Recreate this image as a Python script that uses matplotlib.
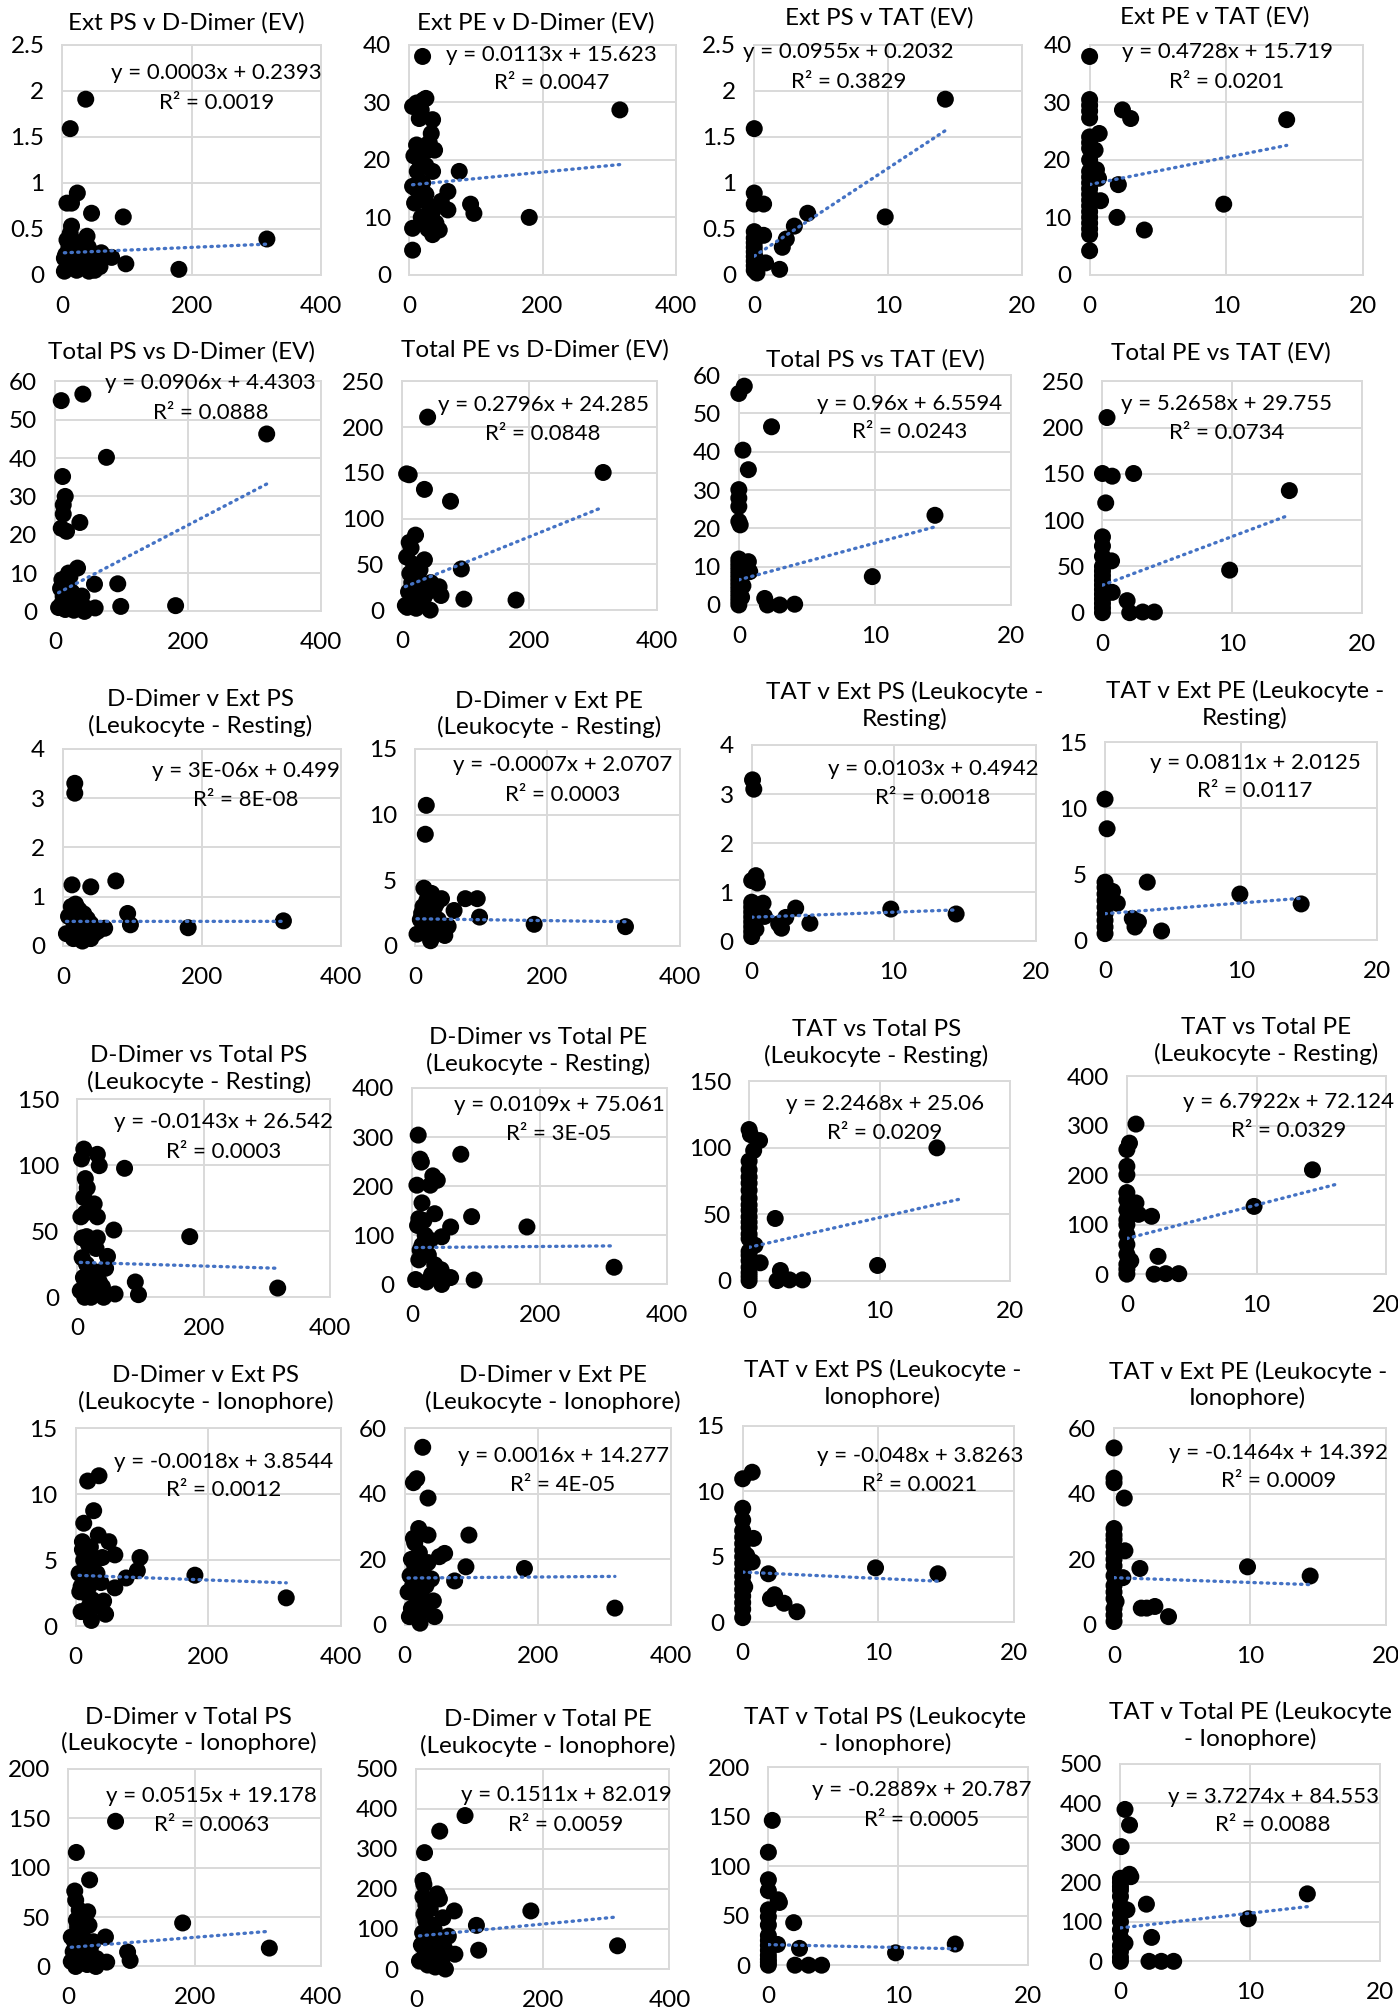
import matplotlib
matplotlib.use("Agg")
import matplotlib.pyplot as plt
from matplotlib.ticker import FuncFormatter

plt.rcParams["font.family"] = ["Lato", "DejaVu Sans"]

# layout units: the sheet is 1088 x 1568 units, panel boxes are given in these
W, H = 1088, 1568

# ---------------- data (x, y) per chart ----------------
# EV charts
ext_ps_dd = [(36, 1.91), (12, 1.59), (23, 0.89), (7, 0.78), (14, 0.78), (45, 0.67), (94, 0.63), (14, 0.53),
             (38, 0.42), (7, 0.38), (316, 0.39), (60, 0.24), (76, 0.19), (98, 0.12), (180, 0.06), (3, 0.18),
             (58, 0.09), (41, 0.04), (3, 0.04), (10, 0.30), (20, 0.25), (25, 0.35), (30, 0.15), (15, 0.10),
             (22, 0.05), (35, 0.20), (12, 0.45), (28, 0.30), (18, 0.20), (8, 0.12), (32, 0.08), (40, 0.30),
             (45, 0.15), (50, 0.05), (5, 0.22)]
ext_pe_dd = [(20, 38.0), (316, 28.7), (5, 29.3), (11, 29.9), (21, 30.4), (25, 30.7), (18, 28.7), (15, 27.2),
             (35, 27.0), (33, 24.6), (11, 22.6), (38, 21.7), (28, 21.7), (7, 20.7), (35, 18.0), (75, 18.0),
             (5, 15.4), (58, 14.5), (48, 12.8), (58, 11.3), (92, 12.3), (97, 10.7), (180, 10.0), (5, 4.3),
             (5, 8.1), (45, 7.8), (35, 7.0), (8, 12.5), (10, 15), (15, 13), (20, 16), (25, 14), (30, 12),
             (18, 10), (22, 9), (28, 8), (12, 18), (40, 9), (35, 11), (15, 20), (25, 19), (30, 23)]
ext_ps_tat = [(14.3, 1.91), (0, 1.59), (0, 0.89), (0, 0.77), (0.7, 0.77), (4.0, 0.67), (9.8, 0.63), (3.0, 0.53),
              (0.7, 0.43), (0, 0.47), (2.4, 0.39), (2.1, 0.30), (0.85, 0.13), (1.9, 0.06), (0, 0.05), (0, 0.1),
              (0, 0.15), (0, 0.2), (0, 0.25), (0, 0.3), (0, 0.35), (0, 0.4), (0.2, 0.02), (0.1, 0.18)]
ext_pe_tat = [(0, 38), (14.4, 27.0), (2.4, 28.7), (3.0, 27.2), (0.7, 24.6), (0.4, 21.7), (2.1, 15.7), (0.8, 12.9),
              (9.8, 12.3), (2.0, 10.0), (4.0, 7.8), (0, 4.2), (0, 30.5), (0, 29.5), (0, 28.5), (0, 27.3), (0, 24),
              (0, 23), (0, 22), (0, 20), (0, 18), (0, 17), (0, 16), (0, 15), (0, 14), (0, 13), (0, 12), (0, 11),
              (0, 10), (0, 9), (0, 8), (0, 7), (0.5, 18.3), (0.65, 16.8)]
tot_ps_dd = [(41.5, 56.7), (9, 55.0), (318, 46.3), (77, 40.2), (11, 35.2), (15, 30.0), (12, 27.8), (12, 25.4),
             (37, 23.2), (9, 21.7), (17, 20.9), (33.5, 11.3), (20, 10), (10, 8.3), (59, 7.1), (94, 7.2),
             (98.5, 1.3), (181, 1.5), (60, 0.9), (44, 0), (5, 1), (10, 2), (15, 0.5), (20, 3), (25, 5), (30, 1.5),
             (35, 2), (40, 4), (8, 6), (18, 7), (28, 0.3), (22, 9), (12, 4), (45, 1)]
tot_pe_dd = [(40, 211), (7, 149), (11, 148), (316, 150.5), (35, 132), (76, 119), (21, 82), (11, 74), (14, 68),
             (7, 58), (35, 55), (93, 45), (28, 44), (58, 25.5), (61, 16), (97, 12), (179, 11), (44, 0), (5, 5),
             (10, 20), (15, 30), (20, 10), (25, 35), (30, 25), (35, 15), (12, 40), (18, 50), (8, 3), (22, 2),
             (28, 8), (40, 20), (45, 30)]
tot_ps_tat = [(0.4, 57.1), (0, 55.2), (2.4, 46.5), (0.3, 40.4), (0.7, 35.3), (0, 30.1), (0, 27.9), (0, 25.7),
              (0, 21.8), (0.1, 20.9), (14.4, 23.4), (0.7, 11.3), (0.8, 8.7), (9.8, 7.4), (1.9, 1.7), (2.1, 0),
              (3.0, 0), (4.1, 0.2), (0, 0), (0, 1), (0, 2), (0, 3), (0, 4), (0, 5), (0, 6), (0, 7), (0, 8), (0, 9),
              (0, 10), (0, 11), (0, 12), (0.2, 2), (0.3, 5)]
tot_pe_tat = [(0.35, 211), (0, 150.5), (0.75, 147.6), (2.4, 150.5), (14.4, 132), (0.25, 118.7), (0, 82), (0, 72),
              (0, 61), (0.7, 56), (0.75, 22), (9.8, 46), (1.9, 13), (2.1, 0), (3.1, 0.7), (4.0, 0.7), (0, 0),
              (0, 5), (0, 10), (0, 15), (0, 20), (0, 25), (0, 30), (0, 35), (0, 40), (0, 45), (0, 50)]

# Leukocyte - resting
dd_ext_ps_rest = [(17, 3.30), (17, 3.10), (13, 1.24), (40, 1.20), (76, 1.32), (93, 0.66), (97, 0.43), (180, 0.37),
                  (317, 0.51), (60, 0.36), (8, 0.6), (12, 0.8), (18, 0.85), (22, 0.75), (25, 0.7), (30, 0.65),
                  (35, 0.55), (40, 0.45), (15, 0.5), (20, 0.4), (25, 0.35), (30, 0.3), (10, 0.25), (35, 0.2),
                  (40, 0.15), (45, 0.25), (15, 0.15), (28, 0.1), (5, 0.25), (50, 0.3)]
dd_ext_pe_rest = [(17, 10.7), (15.5, 8.5), (13.4, 4.4), (76, 3.6), (94, 3.6), (40, 3.6), (97.5, 2.2), (180, 1.65),
                  (318, 1.47), (59, 2.7), (23.5, 0.4), (3, 0.9), (8, 2), (12, 3), (18, 3.5), (22, 2.5), (25, 4),
                  (30, 3), (35, 2), (40, 1), (15, 1.5), (20, 1), (28, 1.8), (45, 0.8), (50, 1.5), (10, 2.5),
                  (33, 3.3)]
tat_ext_ps_rest = [(0.06, 3.29), (0.15, 3.10), (0.3, 1.34), (0, 1.24), (0.4, 1.19), (9.8, 0.66), (14.4, 0.56),
                   (3.1, 0.68), (2.4, 0.49), (4.1, 0.37), (2.1, 0.27), (1.9, 0.36), (0.8, 0.78), (0.9, 0.51),
                   (0, 0.1), (0, 0.2), (0, 0.3), (0, 0.4), (0, 0.5), (0, 0.6), (0, 0.7), (0, 0.8), (0.3, 0.25),
                   (0.2, 0.6)]
tat_ext_pe_rest = [(0, 10.7), (0.15, 8.45), (3.1, 4.4), (9.9, 3.5), (14.4, 2.75), (0.9, 2.8), (2.0, 1.65),
                   (2.45, 1.4), (2.2, 1.0), (4.15, 0.7), (0.55, 3.7), (0, 0.5), (0, 1), (0, 1.5), (0, 2), (0, 2.5),
                   (0, 3), (0, 3.5), (0, 4), (0, 4.4)]
dd_tot_ps_rest = [(10.6, 112.4), (7, 104.9), (32, 108.4), (35, 99.8), (75, 97.8), (13, 90), (16, 83), (10.6, 75.6),
                  (27, 70.8), (6, 61), (13, 64), (32, 61), (58, 51), (8, 45), (15, 46), (32, 45), (178, 46),
                  (30, 37), (48, 31), (92, 11.6), (97, 2), (317, 7), (60, 2.5), (42, 0), (5, 5), (10, 15), (15, 25),
                  (20, 10), (25, 20), (30, 3), (35, 12), (8, 30), (18, 40), (22, 0), (28, 18), (12, 0), (40, 8),
                  (45, 22)]
dd_tot_pe_rest = [(9, 304), (12, 255), (14, 249), (76, 265), (32, 221), (39, 212), (7, 202), (28, 202), (15, 166),
                  (10, 134), (35, 144), (93, 138), (180, 117), (60, 117), (46, 97), (317, 35), (60, 14), (97, 9),
                  (46, 0), (5, 10), (10, 50), (15, 80), (20, 100), (25, 60), (30, 20), (35, 40), (8, 120),
                  (18, 130), (22, 5), (28, 90), (12, 70), (40, 15), (45, 30)]
tat_tot_ps_rest = [(0, 113.8), (0.1, 110), (0.8, 105.5), (0.35, 98), (14.4, 100), (0, 90), (0, 83.5), (0, 73.4),
                   (0, 62), (0, 53), (0, 44), (2.0, 46.8), (0, 31.6), (0, 19), (0.45, 26.6), (0.85, 13.4),
                   (9.85, 11.4), (2.4, 7.6), (2.15, 0), (3.1, 0.5), (4.1, 0.5), (0, 0), (0, 3), (0, 6), (0, 10),
                   (0, 15), (0, 22), (0, 35), (0, 40), (0, 48), (0, 57), (0, 68), (0, 78)]
tat_tot_pe_rest = [(0.7, 303.5), (0.2, 265), (0, 252), (0, 218), (0, 201), (0, 165), (0.7, 144), (0.9, 121),
                   (1.9, 117), (9.8, 137), (14.3, 211), (2.4, 36), (0.3, 27), (2.1, 0), (3.0, 1), (4.0, 1), (0, 0),
                   (0, 10), (0, 20), (0, 40), (0, 60), (0, 80), (0, 100), (0, 110), (0, 130), (0, 150)]

# Leukocyte - ionophore
dd_ext_ps_iono = [(35, 11.4), (18, 11.0), (27, 8.75), (12, 7.8), (34, 6.9), (50, 6.4), (10, 6.4), (59, 5.4),
                  (97, 5.2), (40, 5.2), (93, 4.2), (76, 3.65), (180, 3.86), (59, 2.9), (318, 2.14), (42, 1.9),
                  (45, 0.9), (23.5, 0.43), (8, 1.1), (5, 4), (8, 3), (12, 5), (15, 2.5), (18, 4.5), (20, 3), (22, 6),
                  (25, 2), (28, 5), (30, 3.5), (32, 4), (35, 1.5), (10, 5.8), (15, 3.8), (25, 4.8), (38, 3.3),
                  (6, 2.6), (20, 1.5)]
dd_ext_pe_iono = [(27, 54.2), (18, 44.6), (13, 43.4), (35, 38.7), (21, 29.4), (35, 27.4), (13, 26.4), (96.5, 27.4),
                  (52, 20.8), (60, 21.8), (92, 17.7), (180, 17.2), (75, 13.4), (43, 7.3), (45, 2.5), (7, 2.5),
                  (23, 0.5), (316, 5.1), (5, 10), (8, 15), (10, 20), (12, 12), (15, 18), (18, 8), (20, 14),
                  (22, 22), (25, 10), (28, 16), (30, 5), (32, 12), (35, 19), (40, 14), (10, 5), (15, 25), (25, 4)]
tat_ext_ps_iono = [(0, 10.95), (0.7, 11.45), (0, 8.7), (0, 7.8), (0.8, 6.4), (0.3, 5.1), (0.7, 4.6), (1.9, 3.7),
                   (9.8, 4.15), (14.4, 3.7), (2.05, 1.8), (2.35, 2.1), (3.05, 1.45), (4.0, 0.8), (0, 0.35),
                   (0.15, 2.7), (0, 1), (0, 1.5), (0, 2), (0, 2.5), (0, 3), (0, 3.5), (0, 4), (0, 4.5), (0, 5),
                   (0, 5.5), (0, 6), (0, 6.5), (0, 7)]
tat_ext_pe_iono = [(0, 54), (0, 44.8), (0, 43.4), (0.75, 38.7), (0, 29.4), (0, 27.4), (0.8, 22.6), (1.9, 17.2),
                   (9.8, 17.7), (14.4, 14.9), (0.65, 14.4), (2.0, 5.1), (2.4, 5.1), (3.0, 5.6), (4.0, 2.5),
                   (0.15, 7.1), (0, 1), (0, 3), (0, 5), (0, 8), (0, 10), (0, 12), (0, 15), (0, 18), (0, 20), (0, 22),
                   (0, 24), (0, 26)]
dd_tot_ps_iono = [(75, 146.8), (13, 115.3), (34, 87.5), (10.5, 76.3), (12, 67), (17.5, 57), (31, 55.3), (13, 46.8),
                  (33, 41.7), (181, 44), (59, 29.8), (5, 29.8), (94, 14.6), (318, 18.6), (98, 6.1), (61, 4.4),
                  (44, 0), (5, 5), (8, 15), (10, 25), (12, 0), (15, 10), (18, 20), (20, 35), (22, 5), (25, 28),
                  (28, 12), (30, 2), (35, 18), (40, 25), (45, 8), (15, 40), (20, 50)]
dd_tot_pe_iono = [(77, 383), (37, 344), (13, 290.5), (10.5, 221), (12, 211), (10.5, 180), (33, 187.5),
                  (36.5, 175), (60, 145), (181, 145), (42, 128), (12, 137), (95, 109), (50.6, 82), (318, 58),
                  (61, 37), (98.5, 47), (46, 0), (5, 20), (8, 60), (10, 90), (12, 30), (15, 120), (18, 10),
                  (20, 70), (22, 150), (25, 45), (28, 100), (30, 5), (35, 80), (40, 20), (45, 50), (15, 160),
                  (25, 110)]
tat_tot_ps_iono = [(0.3, 146.4), (0, 114.2), (0, 86.4), (0, 75.3), (0.75, 66.1), (0.85, 63.4), (0, 56), (0, 49),
                   (0, 40.7), (1.95, 43), (0.7, 21), (2.4, 17), (9.8, 12.5), (14.4, 21.4), (2.05, 0), (3.1, 0),
                   (4.1, 0), (0, 0), (0, 3), (0, 6), (0, 10), (0, 15), (0, 20), (0, 25), (0, 30)]
tat_tot_pe_iono = [(0.35, 384), (0.7, 344.5), (0.05, 290), (0.7, 220), (0.8, 214), (0, 210), (0, 189), (0, 164),
                   (0.5, 130), (2.0, 144.5), (9.85, 107.6), (14.4, 170.6), (2.4, 60.5), (0.35, 46), (2.2, 0),
                   (3.15, 0), (4.1, 0), (0, 0), (0, 10), (0, 25), (0, 40), (0, 60), (0, 80), (0, 100), (0, 120),
                   (0, 140), (0, 180), (0, 200)]

series = [ext_ps_dd, ext_pe_dd, ext_ps_tat, ext_pe_tat,
          tot_ps_dd, tot_pe_dd, tot_ps_tat, tot_pe_tat,
          dd_ext_ps_rest, dd_ext_pe_rest, tat_ext_ps_rest, tat_ext_pe_rest,
          dd_tot_ps_rest, dd_tot_pe_rest, tat_tot_ps_rest, tat_tot_pe_rest,
          dd_ext_ps_iono, dd_ext_pe_iono, tat_ext_ps_iono, tat_ext_pe_iono,
          dd_tot_ps_iono, dd_tot_pe_iono, tat_tot_ps_iono, tat_tot_pe_iono]

titles = ["Ext PS v D-Dimer (EV)", "Ext PE v D-Dimer (EV)", "Ext PS v TAT (EV)", "Ext PE v TAT (EV)",
          "Total PS vs D-Dimer (EV)", "Total PE vs D-Dimer (EV)", "Total PS vs TAT (EV)", "Total PE vs TAT (EV)",
          "D-Dimer v Ext PS\n(Leukocyte - Resting)", "D-Dimer v Ext PE\n(Leukocyte - Resting)",
          "TAT v Ext PS (Leukocyte -\nResting)", "TAT v Ext PE (Leukocyte -\nResting)",
          "D-Dimer vs Total PS\n(Leukocyte - Resting)", "D-Dimer vs Total PE\n(Leukocyte - Resting)",
          "TAT vs Total PS\n(Leukocyte - Resting)", "TAT vs Total PE\n(Leukocyte - Resting)",
          "D-Dimer v Ext PS\n(Leukocyte - Ionophore)", "D-Dimer v Ext PE\n(Leukocyte - Ionophore)",
          "TAT v Ext PS (Leukocyte -\nIonophore)", "TAT v Ext PE (Leukocyte -\nIonophore)",
          "D-Dimer v Total PS\n(Leukocyte - Ionophore)", "D-Dimer v Total PE\n(Leukocyte - Ionophore)",
          "TAT v Total PS (Leukocyte\n- Ionophore)", "TAT v Total PE (Leukocyte\n- Ionophore)"]

# linear trendlines as reported: (slope, intercept, R squared)
fits = [("0.0003", "0.2393", "0.0019"), ("0.0113", "15.623", "0.0047"),
        ("0.0955", "0.2032", "0.3829"), ("0.4728", "15.719", "0.0201"),
        ("0.0906", "4.4303", "0.0888"), ("0.2796", "24.285", "0.0848"),
        ("0.96", "6.5594", "0.0243"), ("5.2658", "29.755", "0.0734"),
        ("3E-06", "0.499", "8E-08"), ("-0.0007", "2.0707", "0.0003"),
        ("0.0103", "0.4942", "0.0018"), ("0.0811", "2.0125", "0.0117"),
        ("-0.0143", "26.542", "0.0003"), ("0.0109", "75.061", "3E-05"),
        ("2.2468", "25.06", "0.0209"), ("6.7922", "72.124", "0.0329"),
        ("-0.0018", "3.8544", "0.0012"), ("0.0016", "14.277", "4E-05"),
        ("-0.048", "3.8263", "0.0021"), ("-0.1464", "14.392", "0.0009"),
        ("0.0515", "19.178", "0.0063"), ("0.1511", "82.019", "0.0059"),
        ("-0.2889", "20.787", "0.0005"), ("3.7274", "84.553", "0.0088")]

# trendline forward forecast (x units) where it runs past the last point
forecast = {14: 1.9, 15: 1.9}

x_max = [400, 400, 20, 20] * 6
y_max = [2.5, 40, 2.5, 40, 60, 250, 60, 250, 4, 15, 4, 15,
         150, 400, 150, 400, 15, 60, 15, 60, 200, 500, 200, 500]
y_step = [0.5, 10, 0.5, 10, 10, 50, 10, 50, 1, 5, 1, 5,
          50, 100, 50, 100, 5, 20, 5, 20, 50, 100, 50, 100]

# ---------------- layout ----------------
# plot boxes: left, right, top, bottom (sheet units)
boxes = [(48.6, 250, 35, 214), (318.5, 526, 35, 214), (587, 795, 35, 214), (848, 1061, 35, 214),
         (43, 250, 297, 476), (313, 511, 297, 475), (575, 787, 292, 471), (858, 1060, 297, 477),
         (49, 265.5, 583, 736.5), (323, 529, 583, 736.5), (585, 806, 580, 733), (860, 1072, 578, 732),
         (60, 257, 856, 1010), (321, 519, 847, 1000), (583, 786, 842, 997), (877, 1079, 838, 992),
         (59, 265, 1112, 1266), (315, 522, 1112, 1265), (578, 789, 1110, 1263), (867, 1079, 1112, 1265),
         (53, 250, 1377, 1531), (324, 521, 1377, 1533), (598, 800, 1376, 1530), (872, 1074, 1373, 1527)]
# title centre x and first-line centre y
title_xy = [(145, 18), (417, 18), (684, 14), (945, 13),
            (141, 274), (416, 272), (681, 280), (950, 275),
            (156, 543), (427, 544), (704, 537), (969, 536),
            (155, 820), (419, 806), (682, 800), (985, 798),
            (160, 1069), (430, 1069), (687, 1065), (971, 1066),
            (147, 1335), (426, 1337), (689, 1335), (973, 1331)]
TITLE_GAP = 24.5   # distance between title lines (sheet units)

# equation label: centre x, y of equation line, y of R² line (axes fraction)
eq_pos = [(0.596, 0.877, 0.746), (0.534, 0.957, 0.833), (0.353, 0.971, 0.841), (0.502, 0.971, 0.841),
          (0.585, 0.993, 0.865), (0.554, 0.898, 0.770), (0.628, 0.876, 0.751), (0.479, 0.902, 0.776),
          (0.657, 0.890, 0.738), (0.557, 0.919, 0.766), (0.639, 0.876, 0.729), (0.551, 0.898, 0.754),
          (0.579, 0.887, 0.736), (0.576, 0.912, 0.768), (0.521, 0.885, 0.742), (0.624, 0.870, 0.725),
          (0.560, 0.832, 0.686), (0.595, 0.858, 0.713), (0.653, 0.845, 0.699), (0.605, 0.875, 0.730),
          (0.566, 0.864, 0.714), (0.591, 0.868, 0.721), (0.589, 0.886, 0.734), (0.588, 0.832, 0.689)]

GRID = "#d9d9d9"
TREND = "#4472c4"
FS_TITLE = 17.5
FS_TICK = 17.5
FS_EQ = 16

fig = plt.figure(figsize=(13.98, 20.14), dpi=100)
fmt = FuncFormatter(lambda v, _: f"{v:g}")

for i, pts in enumerate(series):
    l, r, t, b = boxes[i]
    ax = fig.add_axes([l / W, 1 - b / H, (r - l) / W, (b - t) / H])
    xs = [p[0] for p in pts]
    ys = [p[1] for p in pts]

    ax.scatter(xs, ys, s=150, c="black", edgecolors="none", zorder=3, clip_on=False)

    m_txt, c_txt, r2_txt = fits[i]
    m, c = float(m_txt), float(c_txt)
    x0, x1 = min(xs), max(xs) + forecast.get(i, 0)
    ax.plot([x0, x1], [m * x0 + c, m * x1 + c], color=TREND, lw=2.4,
            linestyle=(0, (0.4, 1.6)), dash_capstyle="round", zorder=4)

    ex, ey, ry = eq_pos[i]
    ax.text(ex, ey, f"y = {m_txt}x + {c_txt}", transform=ax.transAxes,
            ha="center", va="center", fontsize=FS_EQ, zorder=5)
    ax.text(ex, ry, f"R² = {r2_txt}", transform=ax.transAxes,
            ha="center", va="center", fontsize=FS_EQ, zorder=5)

    ax.set_xlim(0, x_max[i])
    ax.set_ylim(0, y_max[i])
    ax.set_xticks([0, x_max[i] / 2, x_max[i]])
    n = int(round(y_max[i] / y_step[i]))
    ax.set_yticks([k * y_step[i] for k in range(n + 1)])
    ax.xaxis.set_major_formatter(fmt)
    ax.yaxis.set_major_formatter(fmt)
    ax.tick_params(length=0, labelsize=FS_TICK, colors="black")
    ax.tick_params(axis="y", pad=13)
    ax.tick_params(axis="x", pad=15)
    ax.grid(True, color=GRID, lw=1.4)
    ax.set_axisbelow(True)
    for sp in ax.spines.values():
        sp.set_color(GRID)
        sp.set_linewidth(1.4)

    tx, ty = title_xy[i]
    n_lines = titles[i].count("\n") + 1
    cy = ty + TITLE_GAP * (n_lines - 1) / 2
    fig.text(tx / W, 1 - cy / H, titles[i], ha="center", va="center", fontsize=FS_TITLE,
             linespacing=1.25, multialignment="center")

fig.savefig("out.png", dpi=100, facecolor="white")
